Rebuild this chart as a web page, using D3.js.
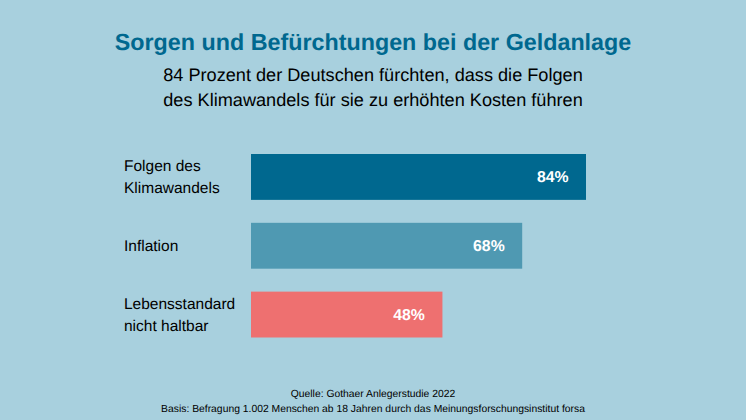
<!DOCTYPE html>
<html>
<head>
<meta charset="utf-8">
<script src="https://cdn.jsdelivr.net/npm/d3@7"></script>
<style>
  html, body { margin: 0; padding: 0; background: #a8d0de; }
  svg { display: block; font-family: "Liberation Sans", Arial, sans-serif; text-rendering: geometricPrecision; }
</style>
</head>
<body>
<svg id="chart" width="746" height="420"></svg>
<script>
var categories = [["Folgen des", "Klimawandels"], ["Inflation"], ["Lebensstandard", "nicht haltbar"]];
var values = [84, 68, 48];
var barColors = ["#00688f", "#4f99b2", "#ee7070"];
var subtitleLines = ["84 Prozent der Deutschen fürchten, dass die Folgen", "des Klimawandels für sie zu erhöhten Kosten führen"];
var sourceLines = ["Quelle: Gothaer Anlegerstudie 2022", "Basis: Befragung 1.002 Menschen ab 18 Jahren durch das Meinungsforschungsinstitut forsa"];

var svg = d3.select("#chart");

svg.append("text")
  .attr("x", 373).attr("y", 50)
  .attr("text-anchor", "middle")
  .style("font-size", "23.3px").style("font-weight", "bold")
  .style("fill", "#00688f")
  .text("Sorgen und Befürchtungen bei der Geldanlage");

svg.selectAll(".sub").data(subtitleLines).enter().append("text")
  .attr("class", "sub")
  .attr("x", 373).attr("y", (d, i) => 81 + i * 25)
  .attr("text-anchor", "middle")
  .style("font-size", "18.15px").style("fill", "#000")
  .text(d => d);

var x = d3.scaleLinear().domain([0, 84]).range([251, 586]);
var y = d3.scaleBand().domain(d3.range(values.length)).range([154, 337.5]).paddingInner(1 / 3).paddingOuter(0);

var row = svg.selectAll(".row").data(values).enter().append("g").attr("class", "row");

row.append("rect")
  .attr("x", x(0))
  .attr("y", (d, i) => y(i))
  .attr("width", d => x(d) - x(0))
  .attr("height", y.bandwidth())
  .style("fill", (d, i) => barColors[i]);

row.append("text")
  .attr("x", d => x(d) - 17.5)
  .attr("y", (d, i) => y(i) + y.bandwidth() / 2 + 5.5)
  .attr("text-anchor", "end")
  .style("font-size", "15.8px").style("font-weight", "bold").style("fill", "#fff")
  .text(d => d + "%");

row.each(function (d, i) {
  var lines = categories[i];
  var mid = y(i) + y.bandwidth() / 2;
  d3.select(this).selectAll(".cat").data(lines).enter().append("text")
    .attr("class", "cat")
    .attr("x", 124)
    .attr("y", (t, j) => mid + 5 + (j - (lines.length - 1) / 2) * 22)
    .style("font-size", "15.5px").style("fill", "#000")
    .text(t => t);
});

svg.selectAll(".src").data(sourceLines).enter().append("text")
  .attr("class", "src")
  .attr("x", 373).attr("y", (d, i) => 397 + i * 14.5)
  .attr("text-anchor", "middle")
  .style("font-size", "10.35px").style("fill", "#000")
  .text(d => d);
</script>
</body>
</html>
